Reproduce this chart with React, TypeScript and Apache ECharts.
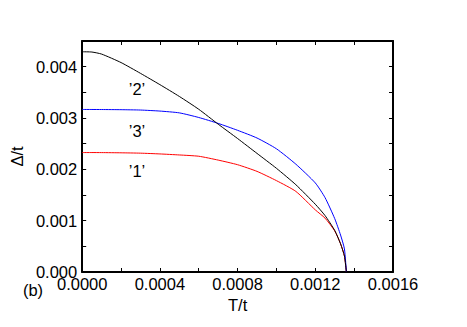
import React, { useEffect, useRef } from "react";
import * as echarts from "echarts";

// Temperature T/t (shared sample points)
const tValues = [
  0, 0.00005, 0.0001, 0.0002, 0.0003, 0.0004, 0.0005, 0.0006, 0.0007, 0.0008,
  0.0009, 0.001, 0.0011, 0.0012, 0.00125, 0.0013, 0.00133, 0.00135, 0.00136,
];
// Gap Δ/t for curve '1' (red)
const delta1 = [
  0.002327, 0.002327, 0.002326, 0.002322, 0.002315, 0.0023, 0.00228, 0.002255,
  0.00218, 0.00209, 0.00196, 0.00178, 0.00157, 0.00121, 0.00105, 0.0008,
  0.00055, 0.00031, 0,
];
// Gap Δ/t for curve '2' (black)
const delta2 = [
  0.00429, 0.004285, 0.004245, 0.00408, 0.00387, 0.00365, 0.00342, 0.00317,
  0.00288, 0.0026, 0.00231, 0.00202, 0.0017, 0.00132, 0.0011, 0.00081,
  0.00055, 0.00031, 0,
];
// Gap Δ/t for curve '3' (blue)
const delta3 = [
  0.003166, 0.003166, 0.003165, 0.003162, 0.003155, 0.003135, 0.0031, 0.00301,
  0.002895, 0.00276, 0.00261, 0.0024, 0.0021, 0.001735, 0.00145, 0.00104,
  0.00072, 0.00045, 0,
];
const xTicks = ["0.0000", "0.0004", "0.0008", "0.0012", "0.0016"];
const yTicks = ["0.000", "0.001", "0.002", "0.003", "0.004"];
const curveLabels = ["\u20192\u2019", "\u20193\u2019", "\u20191\u2019"];

const FONT = "Liberation Sans";

export default function App() {
  const ref = useRef<HTMLDivElement>(null);
  useEffect(() => {
    if (!ref.current) return;
    const chart = echarts.init(ref.current, null, { renderer: "svg" });
    const axisLine = { show: true, onZero: false, lineStyle: { color: "#000", width: 2 } };
    const tick = { show: true, inside: true, length: 4, lineStyle: { color: "#000", width: 1 } };
    const labelStyle = { color: "#000", fontSize: 16.5, fontFamily: FONT };
    const mk = (vals: number[]) => tValues.map((t, i) => [t, vals[i]]);
    const lineSeries = (vals: number[], color: string, z: number) => ({
      type: "line",
      data: mk(vals),
      showSymbol: false,
      smooth: 0.2,
      lineStyle: { color, width: 1 },
      z,
    });
    chart.setOption({
      animation: false,
      backgroundColor: "#fff",
      grid: { left: 82, top: 41, right: 74, bottom: 55, containLabel: false },
      xAxis: [
        {
          type: "value",
          position: "bottom",
          min: 0,
          max: 0.0016,
          interval: 0.0002,
          axisLine,
          axisTick: tick,
          splitLine: { show: false },
          axisLabel: {
            ...labelStyle,
            margin: 3,
            formatter: (v: number) => {
              const k = Math.round(v / 0.0002);
              return k % 2 === 0 ? xTicks[k / 2] ?? "" : "";
            },
          },
          name: "T/t",
          nameLocation: "middle",
          nameGap: 19,
          nameTextStyle: labelStyle,
        },
        {
          type: "value",
          position: "top",
          min: 0,
          max: 0.0016,
          interval: 0.0002,
          axisLine,
          axisTick: tick,
          splitLine: { show: false },
          axisLabel: { show: false },
        },
      ],
      yAxis: [
        {
          type: "value",
          position: "left",
          min: 0,
          max: 0.0045,
          interval: 0.0005,
          axisLine,
          axisTick: tick,
          splitLine: { show: false },
          axisLabel: {
            ...labelStyle,
            margin: 5,
            formatter: (v: number) => {
              const k = Math.round(v / 0.0005);
              return k % 2 === 0 ? yTicks[k / 2] ?? "" : "";
            },
          },
          name: "\u0394/t",
          nameLocation: "middle",
          nameGap: 53,
          nameRotate: 90,
          nameTextStyle: labelStyle,
        },
        {
          type: "value",
          position: "right",
          min: 0,
          max: 0.0045,
          interval: 0.0005,
          axisLine,
          axisTick: tick,
          splitLine: { show: false },
          axisLabel: { show: false },
        },
      ],
      series: [
        lineSeries(delta1, "#ff0000", 2),
        lineSeries(delta2, "#000000", 3),
        lineSeries(delta3, "#0000ff", 2),
      ],
      graphic: [
        ...curveLabels.map((s, i) => ({
          type: "text",
          x: 137,
          y: [89, 131, 171][i],
          style: {
            text: s,
            fill: "#000",
            font: `16.5px "${FONT}"`,
            textAlign: "center",
            textVerticalAlign: "middle",
          },
        })),
        {
          type: "text",
          x: 33,
          y: 290,
          style: {
            text: "(b)",
            fill: "#000",
            font: `16.5px "${FONT}"`,
            textAlign: "center",
            textVerticalAlign: "middle",
          },
        },
      ],
    });
    return () => chart.dispose();
  }, []);
  return (
    <div
      ref={ref}
      style={{ position: "fixed", left: 0, top: 0, width: 467, height: 327 }}
    />
  );
}
